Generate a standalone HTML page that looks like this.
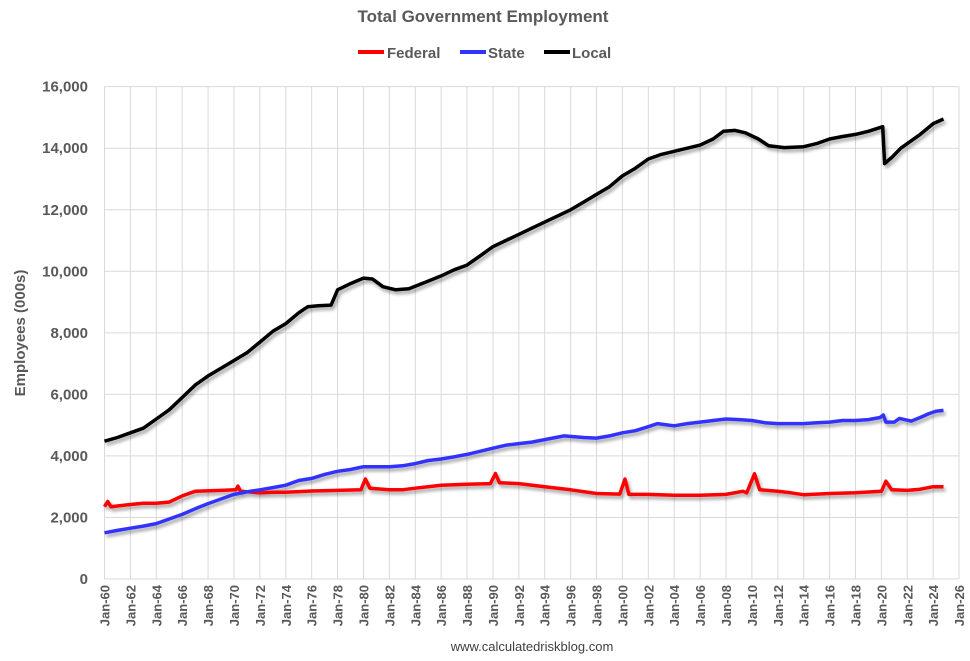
<!DOCTYPE html><html><head><style>body{margin:0;background:#fff}svg{display:block;font-family:"Liberation Sans",sans-serif}</style></head><body>
<svg id="s" width="970" height="661" xmlns="http://www.w3.org/2000/svg">
<defs><filter id="sh" x="-5%" y="-5%" width="110%" height="110%"><feGaussianBlur in="SourceAlpha" stdDeviation="1.5"/><feOffset dx="2" dy="3"/><feComponentTransfer><feFuncA type="linear" slope="0.35"/></feComponentTransfer><feMerge><feMergeNode/><feMergeNode in="SourceGraphic"/></feMerge></filter></defs>
<text x="483" y="22" text-anchor="middle" font-size="17" font-weight="bold" fill="#595959">Total Government Employment</text>
<g font-size="15" font-weight="bold" fill="#595959">
<line x1="358" y1="52" x2="384" y2="52" stroke="#ff0000" stroke-width="4"/><text x="387" y="58">Federal</text>
<line x1="460" y1="52" x2="486" y2="52" stroke="#3333ff" stroke-width="4"/><text x="488" y="58">State</text>
<line x1="544" y1="52" x2="570" y2="52" stroke="#000" stroke-width="4"/><text x="572" y="58">Local</text>
</g>
<g id="grid" stroke="#d9d9d9" stroke-width="1"></g>
<g id="yl" font-size="15" font-weight="bold" fill="#595959" text-anchor="end"></g>
<g id="xl" font-size="13" font-weight="bold" fill="#595959"></g>
<text transform="translate(25,333) rotate(-90)" text-anchor="middle" font-size="15" font-weight="bold" fill="#595959">Employees (000s)</text>
<text x="532" y="651" text-anchor="middle" font-size="13" fill="#404040">www.calculatedriskblog.com</text>
<g id="ser" fill="none" stroke-width="3.5" stroke-linejoin="round" filter="url(#sh)"></g>
</svg>
<script>
var X=function(y){return 104.5+(y-1960)*12.948},Y=function(v){return 579-v*0.03077};
var g=document.getElementById('grid'),yl=document.getElementById('yl'),xl=document.getElementById('xl'),ns='http://www.w3.org/2000/svg',h='';
for(var v=0;v<=16000;v+=2000){h+='<line x1="104.5" x2="959" y1="'+Y(v)+'" y2="'+Y(v)+'"/>';}
for(var k=0;k<=33;k++){var x=X(1960+2*k);h+='<line x1="'+x+'" x2="'+x+'" y1="86.7" y2="'+(k==0?579:579)+'"/>';}
g.innerHTML=h;h='';
for(var v=0;v<=16000;v+=2000){h+='<text x="88" y="'+(Y(v)+5)+'">'+v.toLocaleString('en-US')+'</text>';}
yl.innerHTML=h;h='';
for(var k=0;k<=33;k++){var x=X(1960+2*k)+5,yy=(60+2*k)%100;h+='<text transform="translate('+x+',585) rotate(-90)" text-anchor="end">Jan-'+(yy<10?'0':'')+yy+'</text>';}
xl.innerHTML=h;
var L=[1960,4480,1961,4600,1962,4750,1963,4900,1964,5200,1965,5500,1966,5900,1967,6300,1968,6600,1969,6850,1970,7100,1971,7350,1972,7700,1973,8050,1974,8300,1975,8650,1975.7,8850,1976.5,8880,1977.5,8900,1978,9400,1979,9600,1980,9780,1980.7,9750,1981.5,9500,1982.5,9400,1983.5,9430,1985,9680,1986,9850,1987,10050,1988,10200,1989,10500,1990,10800,1991,11000,1992,11200,1993,11400,1994,11600,1995,11800,1996,12000,1997,12250,1998,12500,1999,12750,2000,13100,2001,13350,2002,13650,2003,13800,2004,13900,2005,14000,2006,14100,2007,14300,2007.8,14550,2008.7,14580,2009.5,14500,2010.5,14300,2011.3,14080,2012.5,14020,2014,14050,2015,14150,2016,14300,2017,14380,2018,14450,2019,14550,2020.1,14700,2020.25,13500,2020.8,13700,2021.5,14000,2022,14150,2023,14450,2024,14800,2024.8,14950];
var S=[1960,1500,1961,1580,1962,1650,1963,1720,1964,1800,1965,1950,1966,2100,1967,2280,1968,2450,1969,2600,1970,2750,1971,2830,1972,2900,1973,2970,1974,3050,1975,3200,1976,3270,1977,3400,1978,3500,1979,3560,1980,3650,1982,3650,1983,3680,1984,3750,1985,3850,1986,3900,1987,3970,1988,4050,1989,4150,1990,4250,1991,4350,1992,4400,1993,4450,1994,4530,1995.5,4650,1997,4600,1998,4580,1999,4650,2000,4750,2001,4820,2002,4950,2002.7,5050,2004,4980,2005,5050,2006,5100,2007,5150,2008,5200,2009,5180,2010,5150,2011,5080,2012,5050,2013,5050,2014,5050,2015,5080,2016,5100,2017,5150,2018,5150,2019,5180,2019.9,5250,2020.15,5330,2020.35,5100,2021,5100,2021.4,5220,2022.3,5130,2023,5250,2023.7,5380,2024.2,5450,2024.8,5480];
var F=[1960,2350,1960.25,2520,1960.5,2350,1962,2420,1963,2460,1964,2460,1965,2500,1966,2700,1967,2850,1969,2880,1970.15,2900,1970.3,3020,1970.5,2850,1972,2800,1973,2820,1974,2820,1976,2860,1978,2880,1979.8,2900,1980.15,3250,1980.5,2950,1982,2900,1983,2900,1984,2950,1986,3050,1988,3080,1989.8,3100,1990.2,3430,1990.5,3130,1992,3100,1994,3000,1996,2900,1998,2780,1999.8,2760,2000.2,3250,2000.5,2750,2002,2750,2004,2720,2006,2720,2008,2750,2009.3,2850,2009.6,2800,2010.2,3420,2010.6,2900,2012,2850,2013,2800,2014,2740,2016,2780,2018,2800,2020,2850,2020.35,3180,2020.8,2900,2022,2880,2023,2920,2024,3000,2024.8,3000];
function pl(a,c){var p=[];for(var i=0;i<a.length;i+=2)p.push(X(a[i]).toFixed(1)+','+Y(a[i+1]).toFixed(1));return '<polyline stroke="'+c+'" points="'+p.join(' ')+'"/>';}
document.getElementById('ser').innerHTML=pl(F,'#ff0000')+pl(S,'#3333ff')+pl(L,'#000');
</script></body></html>
